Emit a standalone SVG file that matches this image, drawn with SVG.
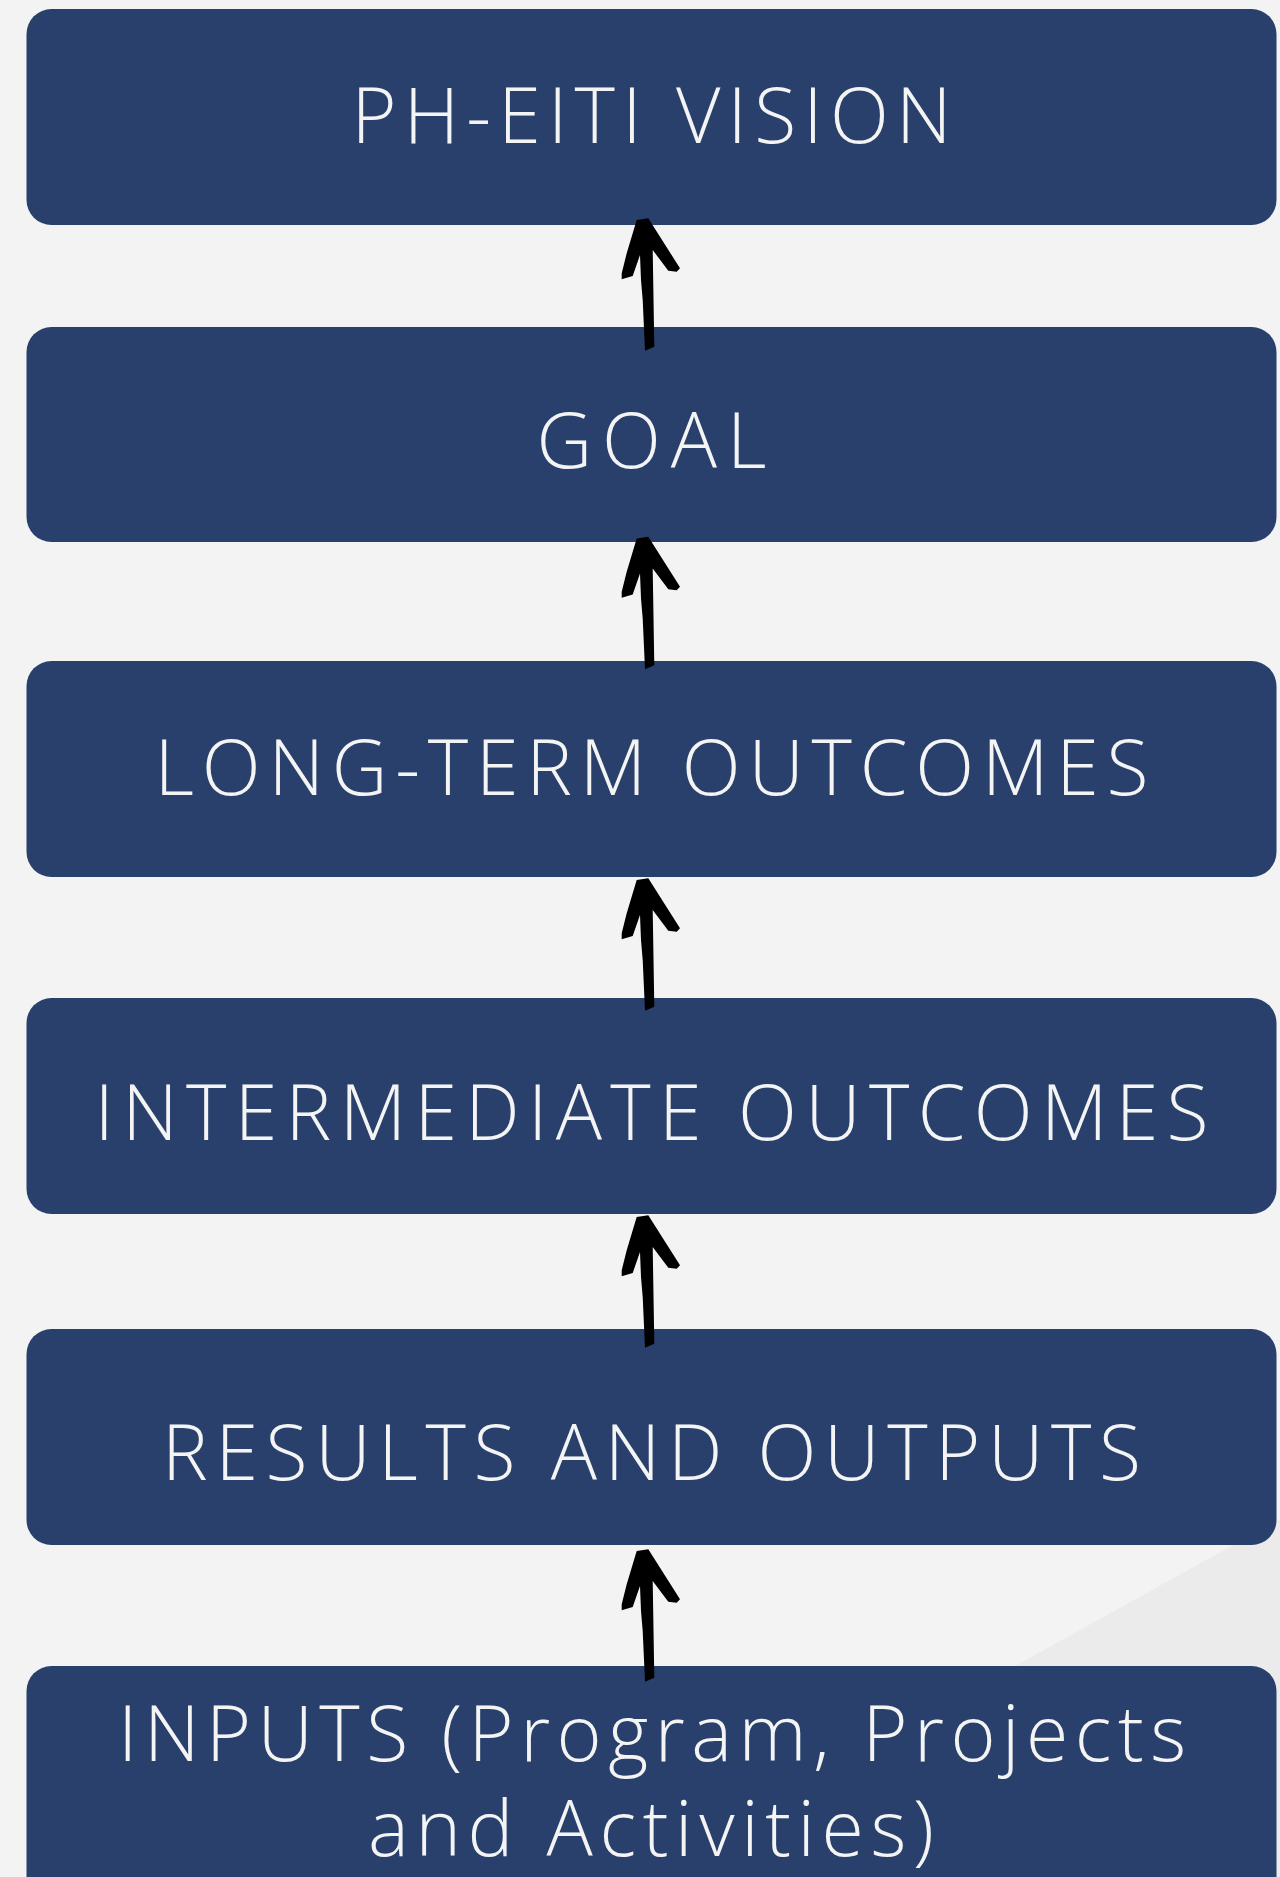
<svg xmlns="http://www.w3.org/2000/svg" xmlns:xlink="http://www.w3.org/1999/xlink" width="1280" height="1877" viewBox="0 0 1280 1877">
  <style>
    .box { fill: #28406b; }
    .label { fill: #f4f4f4; font-family: "Open Sans", "Lato", "Liberation Sans", sans-serif; font-weight: 300; font-size: 77px; text-anchor: middle; }
    .arrow { fill: #000000; }
  </style>
  <defs>
    <path id="arrowShape" d="M636.7,220 L648.3,218.3 L680,268.3 L676.7,271.7 L668.3,270.7 L652.7,250 L654.3,346.7 L645,350.7 L642.7,300 L641,280 L640,255 L632.7,276 L621.7,279.3 L621.7,273.3 L626.7,253.3 Z"/>
  </defs>
  <rect x="0" y="0" width="1280" height="1877" fill="#f3f3f3"/>
  <polygon points="1280,1519 1280,1877 635,1877" fill="#ebebeb"/>

  <g id="node-vision">
    <rect class="box" x="26.5" y="9" width="1250" height="216" rx="25"/>
    <text class="label" x="651.5" y="143" textLength="600" lengthAdjust="spacing">PH-EITI VISION</text>
  </g>
  <g id="node-goal">
    <rect class="box" x="26.5" y="327" width="1250" height="215" rx="25"/>
    <text class="label" x="651.5" y="468" textLength="230" lengthAdjust="spacing">GOAL</text>
  </g>
  <g id="node-long-term">
    <rect class="box" x="26.5" y="661" width="1250" height="216" rx="25"/>
    <text class="label" x="651.5" y="795" textLength="994" lengthAdjust="spacing">LONG-TERM OUTCOMES</text>
  </g>
  <g id="node-intermediate">
    <rect class="box" x="26.5" y="998" width="1250" height="216" rx="25"/>
    <text class="label" x="651.5" y="1140" textLength="1114" lengthAdjust="spacing">INTERMEDIATE OUTCOMES</text>
  </g>
  <g id="node-results">
    <rect class="box" x="26.5" y="1329" width="1250" height="216" rx="25"/>
    <text class="label" x="651.5" y="1480" textLength="979" lengthAdjust="spacing">RESULTS AND OUTPUTS</text>
  </g>
  <g id="node-inputs">
    <rect class="box" x="26.5" y="1666" width="1250" height="240" rx="25"/>
    <text class="label" x="652" y="1761" textLength="1068" lengthAdjust="spacing">INPUTS (Program, Projects</text>
    <text class="label" x="651" y="1856" textLength="566" lengthAdjust="spacing">and Activities)</text>
  </g>

  <g id="connectors" class="arrow">
    <use xlink:href="#arrowShape" href="#arrowShape"/>
    <use xlink:href="#arrowShape" href="#arrowShape" transform="translate(0,318.5)"/>
    <use xlink:href="#arrowShape" href="#arrowShape" transform="translate(0,660)"/>
    <use xlink:href="#arrowShape" href="#arrowShape" transform="translate(0,997)"/>
    <use xlink:href="#arrowShape" href="#arrowShape" transform="translate(0,1331)"/>
  </g>
</svg>
